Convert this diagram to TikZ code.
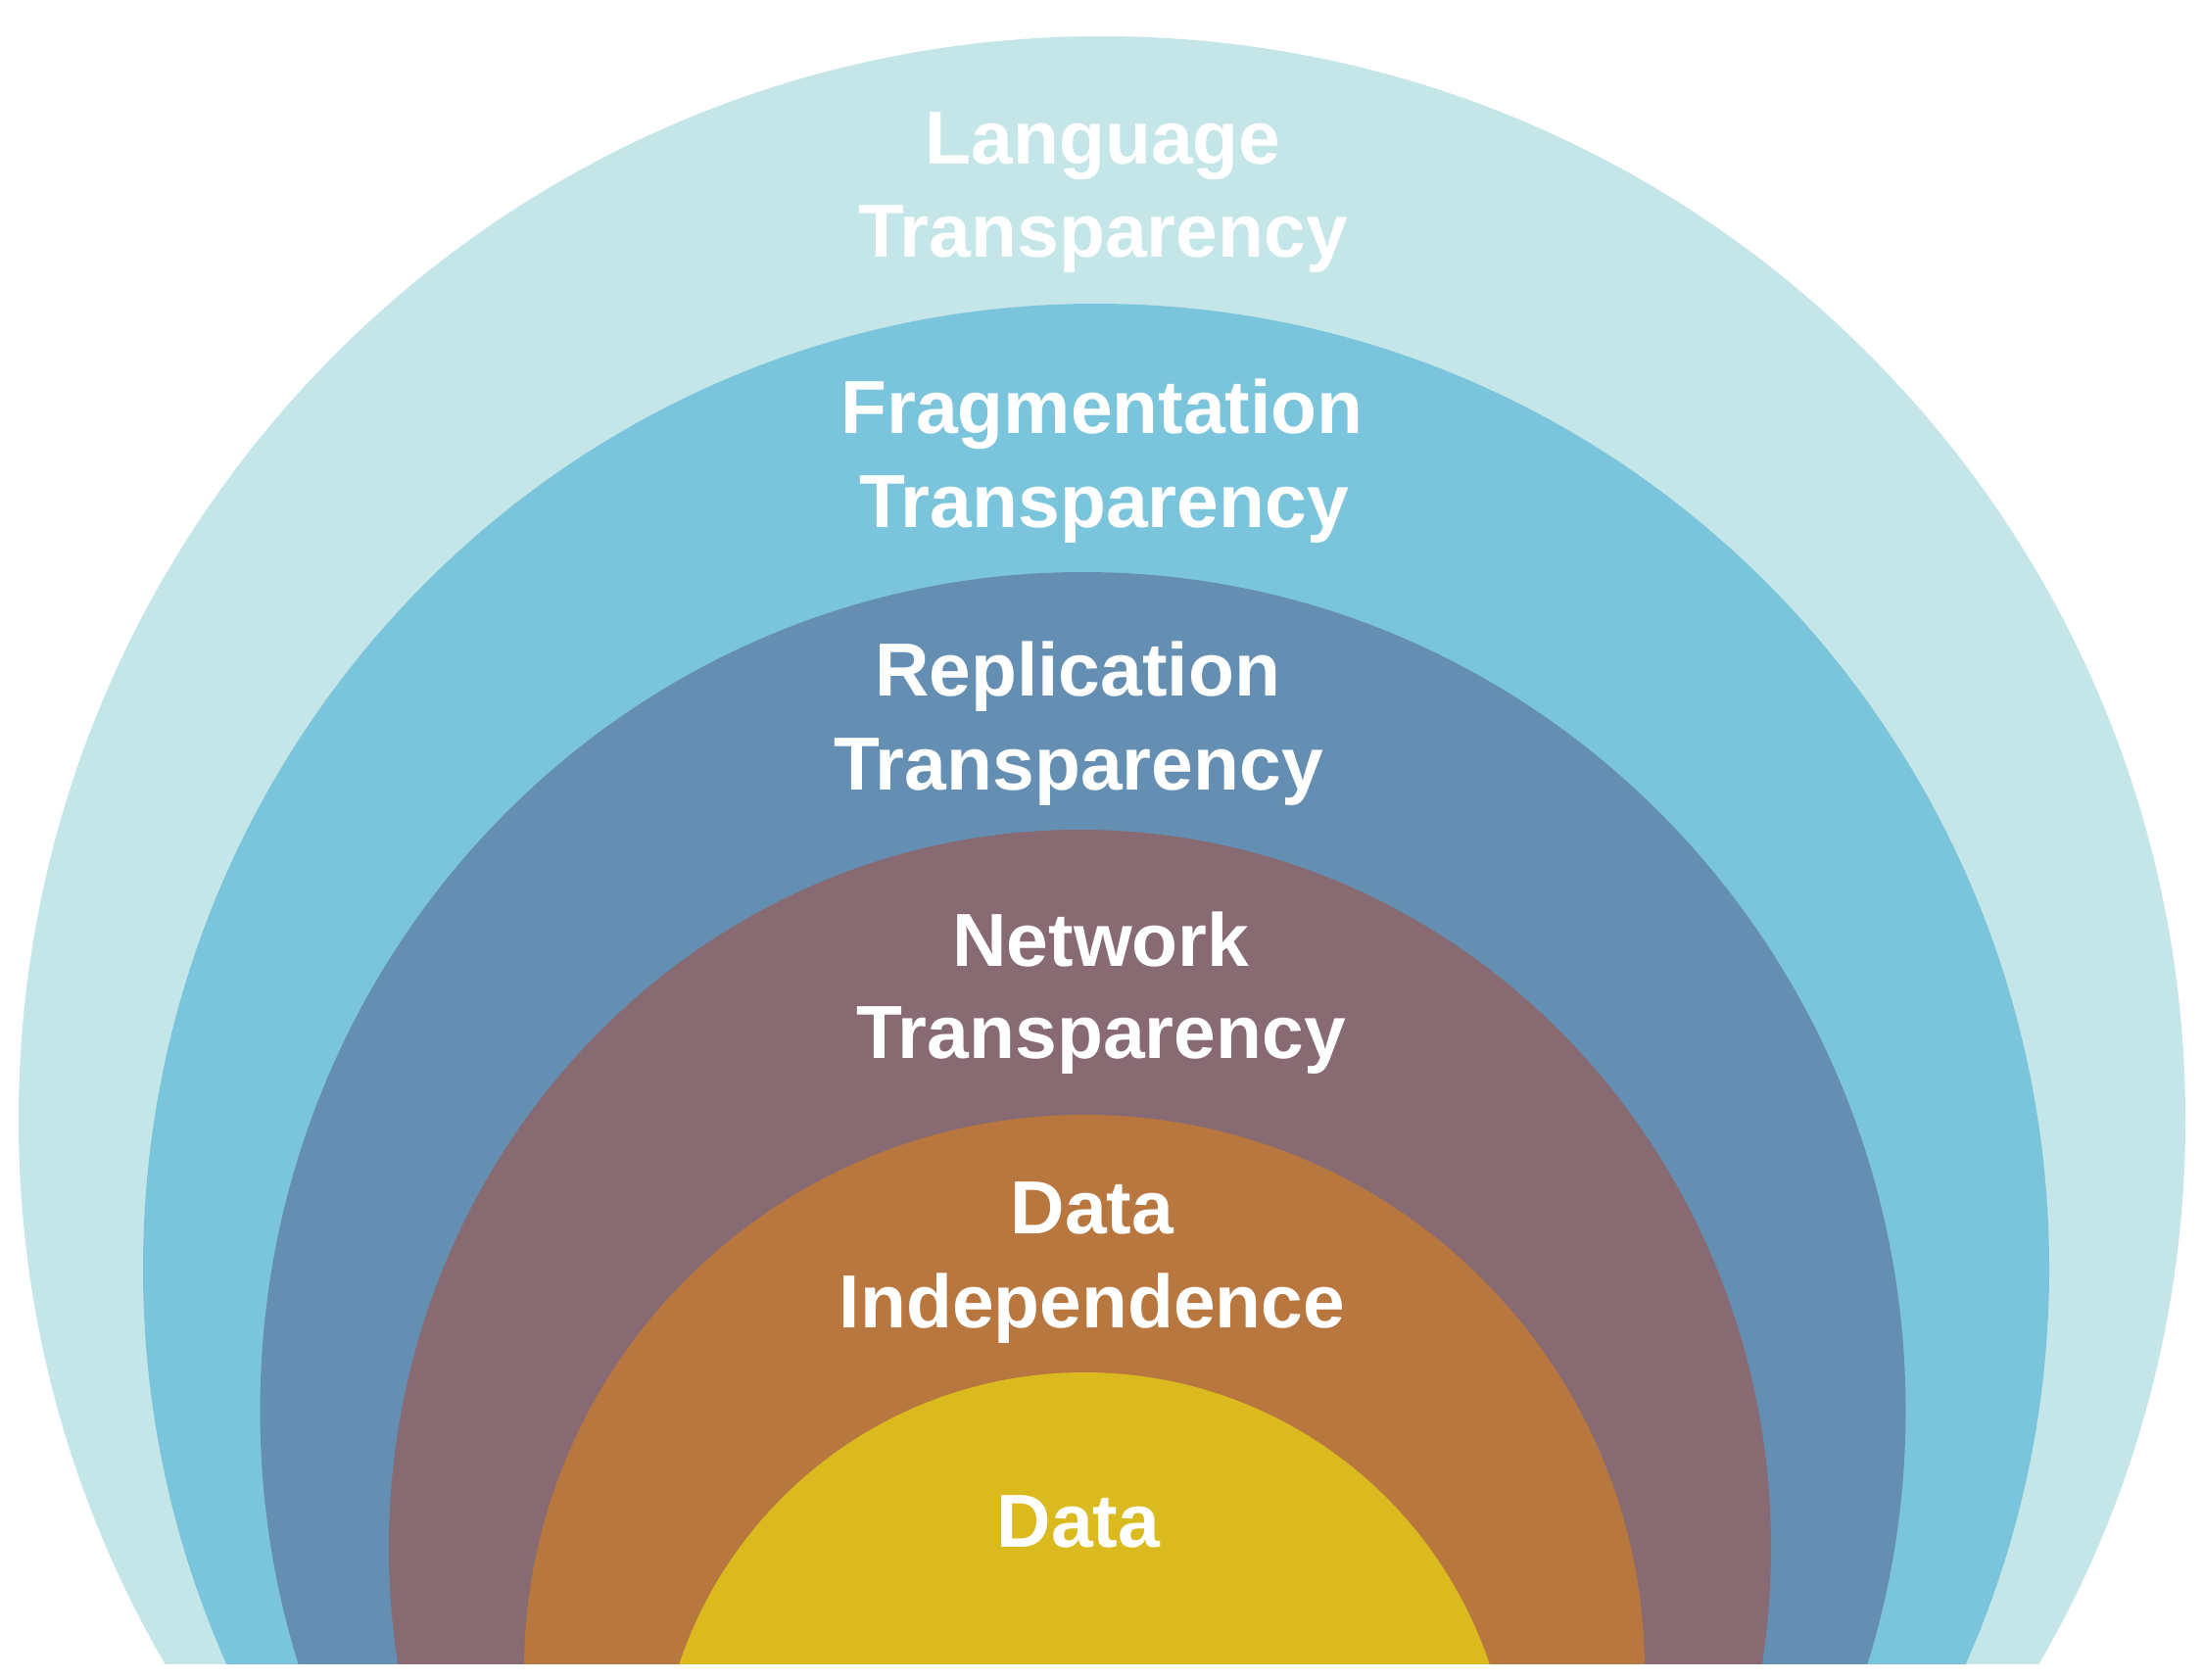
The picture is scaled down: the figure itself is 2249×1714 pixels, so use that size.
\documentclass[tikz,border=0pt]{standalone}
\usepackage{fontspec}
\setmainfont{Liberation Sans}
\definecolor{cLang}{RGB}{196,230,232}
\definecolor{cFrag}{RGB}{123,197,220}
\definecolor{cRepl}{RGB}{101,143,178}
\definecolor{cNet}{RGB}{136,106,115}
\definecolor{cIndep}{RGB}{184,119,62}
\definecolor{cData}{RGB}{218,186,30}
\begin{document}
\begin{tikzpicture}[x=0.5pt,y=-0.5pt,
  lbl/.style={text=white, font=\fontsize{38.4}{47.5}\selectfont\bfseries, inner sep=0pt, anchor=base}]
\useasboundingbox (0,0) rectangle (2249,1714);
\fill[white] (0,0) rectangle (2249,1714);
\begin{scope}
\clip (0,0) rectangle (2249,1698);
\fill[cLang]  (1125,1143) ellipse [x radius=1106, y radius=1106];
\fill[cFrag]  (1119,1295) ellipse [x radius=973, y radius=985];
\fill[cRepl]  (1105.5,1440) ellipse [x radius=840, y radius=856];
\fill[cNet]   (1102.5,1580) ellipse [x radius=705.5, y radius=733];
\fill[cIndep] (1107,1705) ellipse [x radius=572, y radius=567];
\fill[cData]  (1107,1837) ellipse [x radius=436, y radius=436];
\end{scope}
\node[lbl] (lang1)  at (1126,167)  {Language};
\node[lbl] (lang2)  at (1126,262)  {Transparency};
\node[lbl] (frag1)  at (1125,442)  {Fragmentation};
\node[lbl] (frag2)  at (1127,538)  {Transparency};
\node[lbl] (repl1)  at (1100,710)  {Replication};
\node[lbl] (repl2)  at (1101,806)  {Transparency};
\node[lbl] (net1)   at (1124,986)  {Network};
\node[lbl] (net2)   at (1124,1080) {Transparency};
\node[lbl] (ind1)   at (1115,1259) {Data};
\node[lbl] (ind2)   at (1115,1355) {Independence};
\node[lbl] (data)   at (1101,1579) {Data};
\end{tikzpicture}
\end{document}
